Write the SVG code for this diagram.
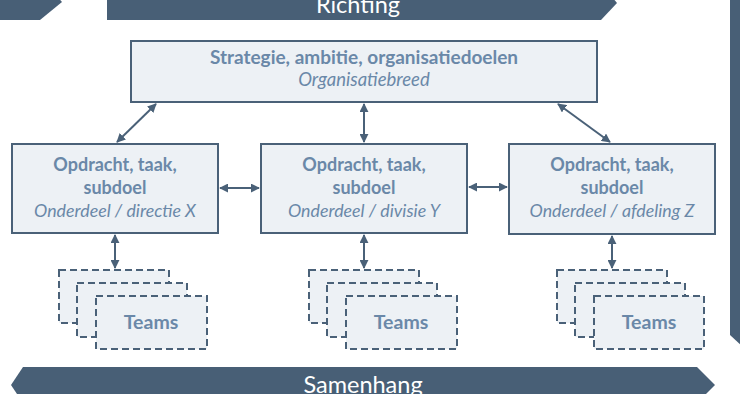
<svg xmlns="http://www.w3.org/2000/svg" width="740" height="394" viewBox="0 0 740 394">
<defs>
<style>
.band{fill:#485f76}
.bandtxt{font-family:Lato,"Open Sans",sans-serif;font-size:23.5px;fill:#ffffff;text-anchor:middle}
.box{fill:#edf1f5;stroke:#4a6178;stroke-width:2}
.team{fill:#edf1f5;stroke:#4a6178;stroke-width:2;stroke-dasharray:7 4}
.b{font-family:Lato,"Open Sans",sans-serif;font-size:18px;font-weight:bold;fill:#6a88a8;text-anchor:middle}
.bt{font-size:19px}
.i{font-family:Lato,"Open Sans",sans-serif;font-size:17.8px;font-style:italic;fill:#6a88a8;text-anchor:middle}
.it{font-size:18.5px}
.tm{font-size:19.5px}
.con{stroke:#4a6178;stroke-width:2;fill:none;marker-start:url(#ah);marker-end:url(#ah)}
</style>
<marker id="ah" viewBox="0 0 10 10" refX="9" refY="5" markerWidth="4.5" markerHeight="4.5" orient="auto-start-reverse" markerUnits="strokeWidth">
<path d="M0,0 L10,5 L0,10 z" fill="#4a6178"/>
</marker>
</defs>

<g id="band-top">
<polygon class="band" points="-10,-14 48,-14 62,2 40,20 -10,20"/>
<polygon class="band" points="107,-14 603,-14 617,3 601,20 107,20"/>
<text class="bandtxt" x="358" y="13">Richting</text>
</g>
<g id="band-right">
<polygon class="band" points="730,-2 742,-2 742,346 730,335"/>
</g>
<g id="band-bottom">
<polygon class="band" points="23,367 697,367 715,385 697,403 23,403 11,385"/>
<text class="bandtxt" x="363" y="393">Samenhang</text>
</g>

<g id="top">
<rect class="box" x="131" y="41" width="466" height="61"/>
<text class="b bt" x="364" y="64">Strategie, ambitie, organisatiedoelen</text>
<text class="i it" x="364" y="86">Organisatiebreed</text>
</g>

<g id="left">
<rect class="box" x="12" y="144" width="206" height="89"/>
<text class="b" x="115" y="171">Opdracht, taak,</text>
<text class="b" x="115" y="194">subdoel</text>
<text class="i" x="115" y="217">Onderdeel / directie X</text>
</g>
<g id="middle">
<rect class="box" x="261" y="144" width="206" height="89"/>
<text class="b" x="364" y="171">Opdracht, taak,</text>
<text class="b" x="364" y="194">subdoel</text>
<text class="i" x="364" y="217">Onderdeel / divisie Y</text>
</g>
<g id="right">
<rect class="box" x="509" y="144" width="206" height="90"/>
<text class="b" x="612" y="171">Opdracht, taak,</text>
<text class="b" x="612" y="194">subdoel</text>
<text class="i" x="612" y="217">Onderdeel / afdeling Z</text>
</g>

<g id="teams-left">
<rect class="team" x="59" y="270" width="110" height="53"/>
<rect class="team" x="77" y="283" width="110" height="54"/>
<rect class="team" x="96" y="296" width="111" height="53"/>
<text class="b tm" x="151" y="329">Teams</text>
</g>
<g id="teams-middle">
<rect class="team" x="309" y="270" width="110" height="53"/>
<rect class="team" x="327" y="283" width="110" height="54"/>
<rect class="team" x="346" y="296" width="111" height="53"/>
<text class="b tm" x="401" y="329">Teams</text>
</g>
<g id="teams-right">
<rect class="team" x="557" y="270" width="110" height="53"/>
<rect class="team" x="575" y="283" width="110" height="54"/>
<rect class="team" x="594" y="296" width="110" height="53"/>
<text class="b tm" x="649" y="329">Teams</text>
</g>

<g id="connectors">
<line class="con" x1="117" y1="142" x2="156" y2="104"/>
<line class="con" x1="364" y1="142" x2="364" y2="104"/>
<line class="con" x1="610" y1="142" x2="558" y2="104"/>
<line class="con" x1="220" y1="188" x2="259" y2="188"/>
<line class="con" x1="469" y1="187" x2="507" y2="187"/>
<line class="con" x1="115" y1="235" x2="115" y2="268"/>
<line class="con" x1="364" y1="235" x2="364" y2="268"/>
<line class="con" x1="612" y1="236" x2="612" y2="268"/>
</g>
</svg>
